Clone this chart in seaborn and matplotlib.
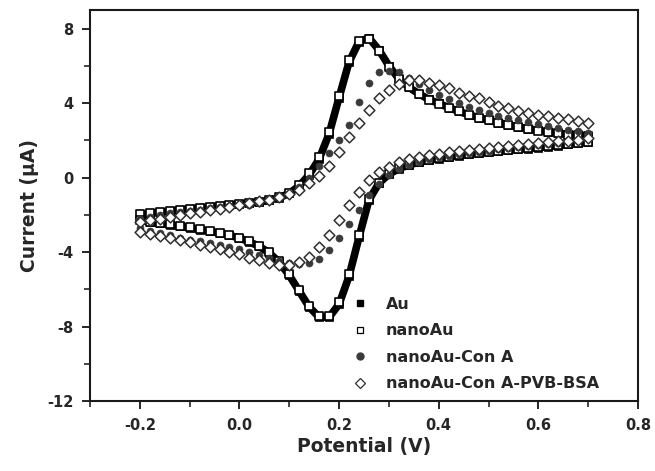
import numpy as np
import pandas as pd
import seaborn as sns
import matplotlib.pyplot as plt
from matplotlib.lines import Line2D
from matplotlib.ticker import MultipleLocator

# Scan potentials (V), forward sweep -0.2 -> 0.7; the reverse sweep goes back the same way
potential = [-0.20, -0.18, -0.16, -0.14, -0.12, -0.10, -0.08, -0.06, -0.04, -0.02,
             0.00, 0.02, 0.04, 0.06, 0.08, 0.10, 0.12, 0.14, 0.16, 0.18,
             0.20, 0.22, 0.24, 0.26, 0.28, 0.30, 0.32, 0.34, 0.36, 0.38,
             0.40, 0.42, 0.44, 0.46, 0.48, 0.50, 0.52, 0.54, 0.56, 0.58,
             0.60, 0.62, 0.64, 0.66, 0.68, 0.70]

# Current (uA) on the forward (anodic) sweep, listed from -0.2 V up to 0.7 V
au_fwd = [-2.00, -1.93, -1.86, -1.80, -1.74, -1.68, -1.62, -1.57, -1.52, -1.47,
          -1.42, -1.36, -1.30, -1.22, -1.08, -0.85, -0.45, 0.15, 1.00, 2.35,
          4.30, 6.20, 7.30, 7.50, 6.85, 6.00, 5.30, 4.85, 4.50, 4.20,
          3.98, 3.76, 3.56, 3.38, 3.22, 3.08, 2.95, 2.83, 2.72, 2.62,
          2.53, 2.45, 2.38, 2.32, 2.27, 2.22]
nanoau_fwd = [-1.98, -1.92, -1.86, -1.80, -1.74, -1.68, -1.63, -1.58, -1.53, -1.48,
              -1.43, -1.37, -1.30, -1.21, -1.06, -0.82, -0.40, 0.22, 1.10, 2.45,
              4.40, 6.30, 7.35, 7.45, 6.80, 5.95, 5.28, 4.84, 4.48, 4.19,
              3.96, 3.75, 3.55, 3.37, 3.21, 3.07, 2.94, 2.82, 2.71, 2.61,
              2.52, 2.44, 2.37, 2.31, 2.26, 2.21]
cona_fwd = [-2.20, -2.10, -2.00, -1.92, -1.85, -1.78, -1.72, -1.66, -1.60, -1.55,
            -1.50, -1.45, -1.38, -1.28, -1.12, -0.88, -0.50, 0.00, 0.60, 1.30,
            2.00, 2.80, 4.05, 5.10, 5.65, 5.75, 5.65, 5.35, 5.00, 4.68,
            4.45, 4.22, 4.00, 3.80, 3.62, 3.46, 3.32, 3.20, 3.08, 2.97,
            2.87, 2.78, 2.68, 2.58, 2.48, 2.40]
pvb_fwd = [-2.40, -2.30, -2.20, -2.10, -2.00, -1.92, -1.84, -1.76, -1.68, -1.58,
           -1.48, -1.38, -1.28, -1.18, -1.05, -0.88, -0.65, -0.30, 0.10, 0.60,
           1.35, 2.20, 2.95, 3.65, 4.25, 4.70, 5.05, 5.22, 5.22, 5.10,
           4.95, 4.80, 4.55, 4.40, 4.25, 4.05, 3.85, 3.72, 3.58, 3.45,
           3.36, 3.28, 3.20, 3.12, 3.03, 2.92]

# Current (uA) on the reverse (cathodic) sweep, listed from -0.2 V up to 0.7 V
au_rev = [-2.30, -2.38, -2.46, -2.54, -2.62, -2.70, -2.79, -2.88, -2.98, -3.10,
          -3.25, -3.45, -3.70, -4.05, -4.55, -5.25, -6.10, -6.95, -7.50, -7.50,
          -6.80, -5.30, -3.20, -1.20, -0.30, 0.18, 0.48, 0.68, 0.82, 0.93,
          1.02, 1.10, 1.17, 1.24, 1.30, 1.36, 1.41, 1.46, 1.51, 1.56,
          1.61, 1.66, 1.72, 1.78, 1.84, 1.90]
nanoau_rev = [-2.28, -2.36, -2.44, -2.52, -2.60, -2.68, -2.77, -2.86, -2.96, -3.08,
              -3.22, -3.42, -3.66, -4.00, -4.50, -5.20, -6.05, -6.90, -7.45, -7.45,
              -6.70, -5.20, -3.10, -1.15, -0.28, 0.20, 0.50, 0.70, 0.84, 0.95,
              1.04, 1.12, 1.19, 1.26, 1.32, 1.38, 1.43, 1.48, 1.53, 1.58,
              1.63, 1.68, 1.74, 1.80, 1.86, 1.92]
cona_rev = [-2.70, -2.85, -2.98, -3.10, -3.22, -3.33, -3.43, -3.53, -3.63, -3.74,
            -3.86, -4.00, -4.15, -4.32, -4.48, -4.60, -4.65, -4.58, -4.35, -3.90,
            -3.25, -2.50, -1.75, -0.95, -0.35, 0.12, 0.45, 0.68, 0.85, 0.98,
            1.08, 1.17, 1.25, 1.32, 1.39, 1.45, 1.51, 1.57, 1.63, 1.69,
            1.75, 1.81, 1.88, 1.95, 2.02, 2.10]
pvb_rev = [-2.92, -3.05, -3.15, -3.26, -3.37, -3.48, -3.60, -3.72, -3.85, -3.98,
           -4.12, -4.30, -4.45, -4.58, -4.68, -4.68, -4.55, -4.25, -3.75, -3.10,
           -2.30, -1.50, -0.75, -0.12, 0.28, 0.58, 0.82, 1.00, 1.12, 1.21,
           1.29, 1.36, 1.42, 1.48, 1.54, 1.60, 1.66, 1.72, 1.77, 1.82,
           1.87, 1.91, 1.95, 1.99, 2.04, 2.10]

labels = ['Au', 'nanoAu', 'nanoAu-Con A', 'nanoAu-Con A-PVB-BSA']


# Build one closed CV loop (forward sweep then reverse sweep) as a DataFrame
def cv_loop(fwd, rev):
    v = potential + potential[::-1]
    i = fwd + rev[::-1]
    return pd.DataFrame({'potential': v, 'current': i})


au_df = cv_loop(au_fwd, au_rev)
nanoau_df = cv_loop(nanoau_fwd, nanoau_rev)
cona_df = cv_loop(cona_fwd, cona_rev)
pvb_df = cv_loop(pvb_fwd, pvb_rev)

sns.set_style('ticks')
plt.rcParams['font.family'] = ['DejaVu Sans']
plt.rcParams['font.weight'] = 'bold'
plt.rcParams['axes.unicode_minus'] = False

fig = plt.figure(figsize=(6.55, 4.71), dpi=100)
ax = fig.add_axes([0.1374, 0.1486, 0.8366, 0.8302])

# Au: filled squares so dense they read as a thick black band
sns.lineplot(data=au_df, x='potential', y='current', sort=False, estimator=None,
             color='black', lw=5.5, ax=ax, zorder=2)
sns.scatterplot(data=au_df, x='potential', y='current', marker='s', s=36,
                color='black', edgecolor='black', ax=ax, zorder=2)
# nanoAu: open squares sitting on the Au band
sns.scatterplot(data=nanoau_df, x='potential', y='current', marker='s', s=34,
                facecolor='white', edgecolor='black', linewidth=1.2, ax=ax, zorder=3)
# nanoAu-Con A: small filled grey circles
sns.scatterplot(data=cona_df, x='potential', y='current', marker='o', s=26,
                color='#3a3a3a', edgecolor='#3a3a3a', ax=ax, zorder=4)
# nanoAu-Con A-PVB-BSA: open diamonds
sns.scatterplot(data=pvb_df, x='potential', y='current', marker='D', s=30,
                facecolor='white', edgecolor='#303030', linewidth=1.1, ax=ax, zorder=5)

ax.set_xlim(-0.3, 0.8)
ax.set_ylim(-12, 9)
ax.xaxis.set_minor_locator(MultipleLocator(0.1))
ax.yaxis.set_minor_locator(MultipleLocator(2))
ax.set_xticks([-0.2, 0.0, 0.2, 0.4, 0.6, 0.8])
ax.set_xticklabels(['-0.2', '0.0', '0.2', '0.4', '0.6', '0.8'])
ax.set_yticks([-12, -8, -4, 0, 4, 8])
ax.set_yticklabels(['-12', '-8', '-4', '0', '4', '8'])
ax.tick_params(which='major', direction='out', length=6, width=1.4,
               labelsize=10.5, pad=6)
ax.tick_params(which='minor', direction='out', length=4, width=1.2)
for spine in ax.spines.values():
    spine.set_linewidth(1.5)
    spine.set_color('#1a1a1a')

ax.set_xlabel('Potential (V)', fontsize=13.5, fontweight='bold', labelpad=3)
ax.set_ylabel('Current (\u03bcA)', fontsize=13.5, fontweight='bold', labelpad=6)

handles = [
    Line2D([], [], ls='none', marker='s', ms=5, mfc='black', mec='black'),
    Line2D([], [], ls='none', marker='s', ms=5, mfc='white', mec='black', mew=0.9),
    Line2D([], [], ls='none', marker='o', ms=5, mfc='#3a3a3a', mec='#3a3a3a'),
    Line2D([], [], ls='none', marker='D', ms=5, mfc='white', mec='#303030', mew=0.9),
]
ax.legend(handles, labels, loc='lower left', bbox_to_anchor=(0.46, 0.0),
          frameon=False, fontsize=11.5, handlelength=1.0, handletextpad=1.15,
          labelspacing=0.72, borderaxespad=0.2)

fig.savefig('out.png', dpi=100)
